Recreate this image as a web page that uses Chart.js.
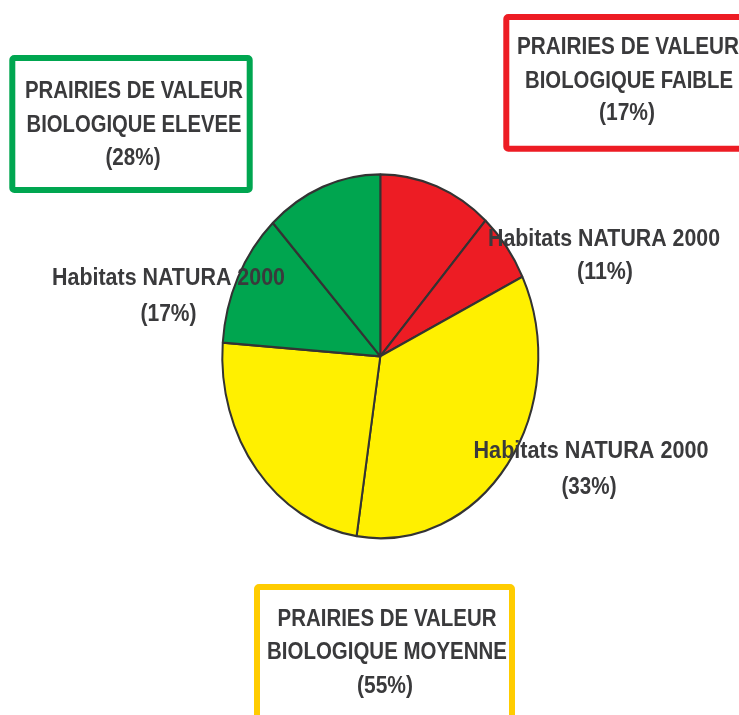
<!DOCTYPE html>
<html>
<head>
<meta charset="utf-8">
<script src="https://cdn.jsdelivr.net/npm/chart.js@4/dist/chart.umd.min.js"></script>
<style>
  html, body { margin: 0; padding: 0; background: #ffffff; }
  #wrap { width: 739px; height: 715px; position: relative; }
</style>
</head>
<body>
<div id="wrap"><canvas id="c" width="739" height="715"></canvas></div>
<script>
// ---- data ----
const categories = [
  'Faible - Habitats NATURA 2000',
  'Faible - autres',
  'Moyenne - Habitats NATURA 2000',
  'Moyenne - autres',
  'Elevee - Habitats NATURA 2000',
  'Elevee - autres'
];
const values = [11.6, 6.2, 34.6, 23.8, 11.9, 11.9];
const groupTitles = [
  ['PRAIRIES DE VALEUR', 'BIOLOGIQUE FAIBLE', '(17%)'],
  ['PRAIRIES DE VALEUR', 'BIOLOGIQUE MOYENNE', '(55%)'],
  ['PRAIRIES DE VALEUR', 'BIOLOGIQUE ELEVEE', '(28%)']
];
const naturaLabels = [
  ['Habitats NATURA 2000', '(11%)'],
  ['Habitats NATURA 2000', '(33%)'],
  ['Habitats NATURA 2000', '(17%)']
];

// ---- styles ----
const sliceColors = ['#ED1C24', '#ED1C24', '#FFF000', '#FFF000', '#00A54F', '#00A54F'];
const boxColors = ['#ED1C24', '#FFCC00', '#00A650'];
const textColor = '#3a3a3c';
const yStretch = 182 / 158;

const ellipsePlugin = {
  id: 'ellipse',
  beforeDatasetsDraw(chart) {
    const arc = chart.getDatasetMeta(0).data[0];
    const ctx = chart.ctx;
    ctx.save();
    ctx.translate(arc.x, arc.y);
    ctx.scale(1, yStretch);
    ctx.translate(-arc.x, -arc.y);
  },
  afterDatasetsDraw(chart) {
    chart.ctx.restore();
  }
};

function drawLines(ctx, lines, cx, baselines, widths) {
  ctx.fillStyle = textColor;
  ctx.font = 'bold 23px "Liberation Sans", Arial, sans-serif';
  ctx.textAlign = 'center';
  ctx.textBaseline = 'alphabetic';
  lines.forEach((t, i) => {
    ctx.fillText(t, cx[i], baselines[i], widths[i]);
  });
}

const labelPlugin = {
  id: 'labels',
  afterDraw(chart) {
    const ctx = chart.ctx;
    ctx.save();
    ctx.lineWidth = 6;
    ctx.lineJoin = 'round';
    ctx.strokeStyle = boxColors[0];
    ctx.beginPath(); ctx.roundRect(506.3, 17, 260, 131.7, 2); ctx.stroke();
    ctx.strokeStyle = boxColors[1];
    ctx.beginPath(); ctx.roundRect(257, 587, 255, 200, 2); ctx.stroke();
    ctx.strokeStyle = boxColors[2];
    ctx.beginPath(); ctx.roundRect(12.3, 58, 237.4, 132, 2); ctx.stroke();

    drawLines(ctx, groupTitles[0], [628, 629, 627], [54, 88, 120], [222, 208, 56]);
    drawLines(ctx, groupTitles[1], [387, 387, 385], [625.5, 659, 692.5], [219, 240, 56]);
    drawLines(ctx, groupTitles[2], [134, 134, 133], [97.5, 131.5, 164.5], [218, 215, 55]);

    drawLines(ctx, naturaLabels[0], [604, 605], [245.5, 279], [232, 56]);
    drawLines(ctx, naturaLabels[1], [591, 589], [457.5, 494], [235, 55]);
    drawLines(ctx, naturaLabels[2], [168.5, 168.5], [285, 320.5], [233, 56]);
    ctx.restore();
  }
};

new Chart(document.getElementById('c'), {
  type: 'pie',
  data: {
    labels: categories,
    datasets: [{
      data: values,
      backgroundColor: sliceColors,
      borderColor: '#333333',
      borderWidth: 2,
      clip: false
    }]
  },
  options: {
    responsive: false,
    animation: false,
    radius: 158,
    layout: { padding: { left: 101.6, right: 80, top: 100, bottom: 102.4 } },
    plugins: {
      legend: { display: false },
      tooltip: { enabled: false },
      title: { display: false }
    }
  },
  plugins: [ellipsePlugin, labelPlugin]
});
</script>
</body>
</html>
